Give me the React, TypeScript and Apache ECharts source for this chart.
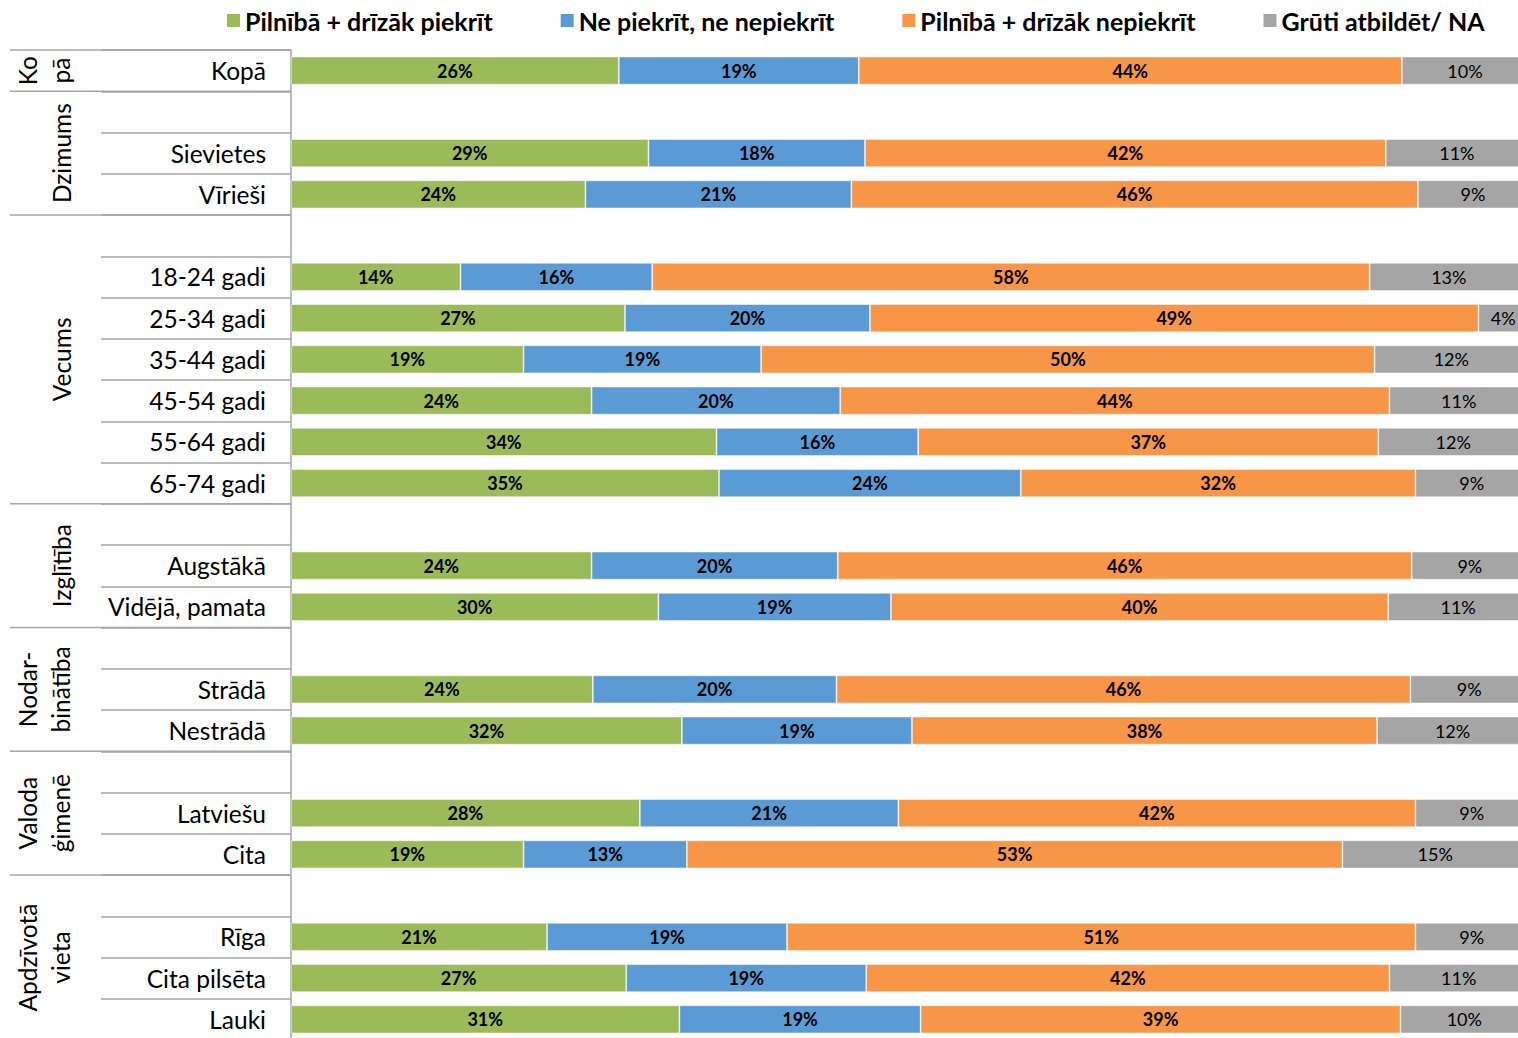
import React, { useEffect, useRef } from "react";
import * as echarts from "echarts";

const categories = [
  "Kopā", "", "Sievietes", "Vīrieši", "",
  "18-24 gadi", "25-34 gadi", "35-44 gadi", "45-54 gadi", "55-64 gadi", "65-74 gadi", "",
  "Augstākā", "Vidējā, pamata", "", "Strādā", "Nestrādā", "",
  "Latviešu", "Cita", "", "Rīga", "Cita pilsēta", "Lauki",
];

const seriesNames = [
  "Pilnībā + drīzāk piekrīt",
  "Ne piekrīt, ne nepiekrīt",
  "Pilnībā + drīzāk nepiekrīt",
  "Grūti atbildēt/ NA",
];

// bar lengths (percent)
const agreeValues = [26.5, null, 28.9, 23.8, null, 13.7, 27.0, 18.8, 24.3, 34.4, 34.6, null, 24.3, 29.7, null, 24.4, 31.6, null, 28.2, 18.8, null, 20.7, 27.1, 31.4];
const neutralValues = [19.4, null, 17.5, 21.5, null, 15.5, 19.8, 19.2, 20.1, 16.3, 24.4, null, 19.9, 18.8, null, 19.7, 18.6, null, 20.9, 13.2, null, 19.4, 19.4, 19.5];
const disagreeValues = [43.9, null, 42.1, 45.8, null, 58.0, 49.2, 49.6, 44.4, 37.2, 31.9, null, 46.4, 40.2, null, 46.4, 37.6, null, 41.8, 53.0, null, 50.8, 42.3, 38.8];
const naValues = [10.2, null, 11.5, 8.9, null, 12.8, 4.0, 12.4, 11.2, 12.1, 9.1, null, 9.4, 11.3, null, 9.5, 12.2, null, 9.1, 15.0, null, 9.1, 11.2, 10.3];

// printed labels (percent)
const agreeLabels = [26, null, 29, 24, null, 14, 27, 19, 24, 34, 35, null, 24, 30, null, 24, 32, null, 28, 19, null, 21, 27, 31];
const neutralLabels = [19, null, 18, 21, null, 16, 20, 19, 20, 16, 24, null, 20, 19, null, 20, 19, null, 21, 13, null, 19, 19, 19];
const disagreeLabels = [44, null, 42, 46, null, 58, 49, 50, 44, 37, 32, null, 46, 40, null, 46, 38, null, 42, 53, null, 51, 42, 39];
const naLabels = [10, null, 11, 9, null, 13, 4, 12, 11, 12, 9, null, 9, 11, null, 9, 12, null, 9, 15, null, 9, 11, 10];

const groupNames = ["Ko\npā", "Dzimums", "Vecums", "Izglītība", "Nodar-\nbinātība", "Valoda\nģimenē", "Apdzīvotā\nvieta"];
const groupStarts = [0, 1, 4, 11, 14, 17, 20];
const groupEnds = [1, 4, 11, 14, 17, 20, 24];

const colors = ["#9BBB59", "#5B9BD5", "#F79646", "#A5A5A5"];
const FONT = "Lato, 'Open Sans', sans-serif";
const LINE = "#A6A6A6";

export default function App() {
  const ref = useRef<HTMLDivElement>(null);

  useEffect(() => {
    if (!ref.current) return;
    const chart = echarts.init(ref.current, null, { renderer: "svg" });
    const valueSets = [agreeValues, neutralValues, disagreeValues, naValues];
    const labelSets = [agreeLabels, neutralLabels, disagreeLabels, naLabels];

    const series = seriesNames.map((name, si) => ({
      name,
      type: "bar",
      stack: "total",
      barWidth: 28,
      data: valueSets[si],
      itemStyle: { color: colors[si], borderColor: "rgba(255,255,255,0.6)", borderWidth: 0.8 },
      label: {
        show: true,
        position: "inside",
        color: "#000",
        fontFamily: FONT,
        fontSize: 18,
        fontWeight: si === 3 ? "normal" : "bold",
        formatter: (p: any) => {
          const v = labelSets[si][p.dataIndex];
          return v == null ? "" : v + "%";
        },
      },
    }));

    chart.setOption({
      animation: false,
      legend: {
        data: seriesNames,
        left: 222,
        top: 3,
        icon: "rect",
        itemWidth: 13,
        itemHeight: 13,
        itemGap: 68,
        itemStyle: { borderWidth: 0 },
        textStyle: { fontFamily: FONT, fontSize: 25, fontWeight: "bold", color: "#000" },
      },
      grid: { left: 291, top: 50, width: 1237, height: 990, outerBoundsMode: "none" },
      xAxis: { type: "value", min: 0, max: 100, show: false },
      yAxis: {
        type: "category",
        inverse: true,
        data: categories,
        axisLine: { show: true, lineStyle: { color: LINE, width: 1.5 } },
        axisTick: { show: true, length: 190, interval: 0, lineStyle: { color: LINE, width: 1.5 } },
        axisLabel: { interval: 0, margin: 25, color: "#000", fontFamily: FONT, fontSize: 24.5 },
        splitLine: { show: false },
      },
      series,
    });

    const y0 = chart.convertToPixel({ yAxisIndex: 0 }, 0) as number;
    const y1 = chart.convertToPixel({ yAxisIndex: 0 }, 1) as number;
    const step = y1 - y0;
    const boundary = (i: number) => y0 + (i - 0.5) * step;

    const graphics: any[] = [];
    groupStarts.forEach((s, gi) => {
      const yb = boundary(s);
      graphics.push({
        type: "line",
        shape: { x1: 10, y1: yb, x2: 291, y2: yb },
        style: { stroke: LINE, lineWidth: 1.5 },
        silent: true,
      });
      const yc = (boundary(s) + boundary(groupEnds[gi])) / 2;
      const twoLines = groupNames[gi].indexOf("\n") >= 0;
      graphics.push({
        type: "text",
        x: twoLines ? 44 : 61,
        y: yc,
        rotation: Math.PI / 2,
        silent: true,
        style: {
          text: groupNames[gi],
          fill: "#000",
          fontFamily: FONT,
          fontSize: 24.5,
          lineHeight: 33,
          align: "center",
          verticalAlign: "middle",
          textAlign: "center",
          textVerticalAlign: "middle",
        },
      });
    });
    const yEnd = boundary(groupEnds[groupEnds.length - 1]);
    graphics.push({
      type: "line",
      shape: { x1: 10, y1: yEnd, x2: 291, y2: yEnd },
      style: { stroke: LINE, lineWidth: 1.5 },
      silent: true,
    });
    chart.setOption({ graphic: graphics });

    return () => chart.dispose();
  }, []);

  return (
    <div
      ref={ref}
      style={{ position: "fixed", left: 0, top: 0, width: 1518, height: 1038, background: "#fff" }}
    />
  );
}
